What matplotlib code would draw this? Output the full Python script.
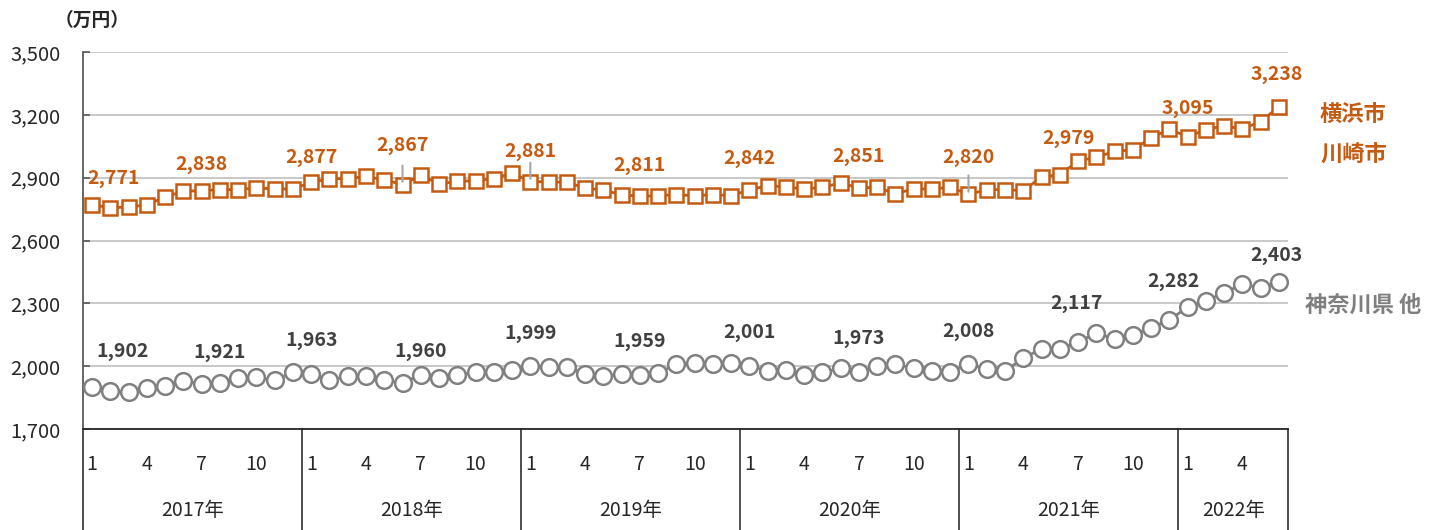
import matplotlib
matplotlib.use("Agg")
import matplotlib.pyplot as plt
import numpy as np
import pandas as pd

plt.rcParams['font.family'] = ['Noto Sans CJK JP', 'DejaVu Sans']

# monthly, Jan 2017 - Jun 2022
dates = pd.date_range('2017-01-01', periods=66, freq='MS')

yokohama_kawasaki = [
    2771, 2756, 2760, 2770, 2808, 2835, 2838, 2843, 2843, 2851, 2846, 2846,
    2877, 2895, 2895, 2906, 2890, 2867, 2911, 2871, 2882, 2886, 2895, 2922,
    2881, 2880, 2878, 2851, 2840, 2819, 2811, 2814, 2819, 2814, 2819, 2814,
    2842, 2862, 2856, 2846, 2854, 2875, 2851, 2854, 2824, 2846, 2846, 2854,
    2820, 2843, 2843, 2838, 2903, 2914, 2979, 2998, 3025, 3033, 3089, 3132,
    3095, 3129, 3148, 3132, 3168, 3238,
]
kanagawa_other = [
    1902, 1882, 1878, 1898, 1906, 1930, 1914, 1921, 1943, 1946, 1933, 1970,
    1963, 1935, 1951, 1951, 1933, 1919, 1960, 1943, 1957, 1970, 1970, 1982,
    1999, 1997, 1997, 1962, 1951, 1962, 1959, 1967, 2010, 2014, 2010, 2014,
    2001, 1978, 1982, 1957, 1970, 1989, 1973, 2001, 2010, 1989, 1978, 1974,
    2008, 1986, 1978, 2037, 2084, 2081, 2117, 2156, 2132, 2148, 2184, 2220,
    2282, 2311, 2351, 2390, 2375, 2403,
]
# indices of points that carry a value label
orange_labeled = [0, 6, 12, 17, 24, 30, 36, 42, 48, 54, 60, 65]
gray_labeled = [0, 7, 12, 18, 24, 30, 36, 42, 48, 54, 60, 65]
orange_leaders = [17, 24, 48]

ORANGE = '#C55A11'
GRAY = '#808080'
LABEL_GRAY = '#404040'

W, H = 1444, 530
fig = plt.figure(figsize=(W / 100, H / 100), dpi=100)
x0, x1, ytop, ybot = 83, 1288, 52, 429
ax = fig.add_axes([x0 / W, 1 - ybot / H, (x1 - x0) / W, (ybot - ytop) / H])

x = np.arange(len(dates))
ax.plot(x, yokohama_kawasaki, color=ORANGE, lw=2, marker='s', ms=9.5,
        mfc='white', mec=ORANGE, mew=1.8, zorder=4, clip_on=False)
ax.plot(x, kanagawa_other, color=GRAY, lw=2, marker='o', ms=12,
        mfc='white', mec=GRAY, mew=1.8, zorder=3, clip_on=False)

ax.set_xlim(-0.5, len(dates) - 0.5)
ax.set_ylim(1700, 3500)
ax.set_yticks(np.arange(1700, 3501, 300))
ax.yaxis.set_major_formatter(matplotlib.ticker.FuncFormatter(lambda v, p: f'{v:,.0f}'))
ax.tick_params(axis='y', direction='in', length=5, width=1.2, color='#595959',
               labelsize=14.5, pad=16, labelcolor='#262626')
ax.set_xticks([])
ax.grid(axis='y', color='#BFBFBF', lw=1.2, zorder=0)
ax.set_axisbelow(True)
for s in ['top', 'right']:
    ax.spines[s].set_visible(False)
ax.spines['left'].set_color('#595959')
ax.spines['left'].set_linewidth(1.3)
ax.spines['bottom'].set_color('#262626')
ax.spines['bottom'].set_linewidth(1.3)

# value labels (offsets in pixels: dx, dy above the point)
orange_off = {0: (21, 26), 6: (0, 26), 12: (0, 25), 17: (0, 39), 24: (0, 30),
              48: (0, 37), 54: (-10, 23), 60: (0, 28), 65: (-2, 32)}
gray_off = {0: (30, 35), 7: (0, 30), 18: (0, 23), 54: (-2, 38), 60: (-14, 26),
            65: (-2, 26)}

for i in orange_labeled:
    dx, dy = orange_off.get(i, (0, 31))
    ax.annotate(f'{yokohama_kawasaki[i]:,}', (i, yokohama_kawasaki[i]),
                xytext=(dx, dy), textcoords='offset pixels', ha='center',
                va='center', fontsize=14, fontweight='bold', color=ORANGE,
                annotation_clip=False, zorder=6)
for i in orange_leaders:
    ax.annotate('', (i, yokohama_kawasaki[i]), xytext=(0, 19),
                textcoords='offset pixels',
                arrowprops=dict(arrowstyle='-', color='#A6A6A6', lw=1.5,
                                shrinkA=0, shrinkB=2),
                zorder=5)
for i in gray_labeled:
    dx, dy = gray_off.get(i, (0, 33))
    ax.annotate(f'{kanagawa_other[i]:,}', (i, kanagawa_other[i]),
                xytext=(dx, dy), textcoords='offset pixels', ha='center',
                va='center', fontsize=14, fontweight='bold', color=LABEL_GRAY,
                annotation_clip=False, zorder=6)

# category axis: months and years
tr = ax.get_xaxis_transform()
axis_h = ybot - ytop
for i, d in enumerate(dates):
    if d.month in (1, 4, 7, 10):
        ax.text(i, -(465 - ybot) / axis_h, str(d.month), transform=tr,
                ha='center', va='center', fontsize=14, color='#262626')
years = sorted(set(dates.year))
bounds = [-0.5]
for yr in years:
    idx = np.where(dates.year == yr)[0]
    bounds.append(idx[-1] + 0.5)
    ax.text((idx[0] + idx[-1]) / 2, -(510 - ybot) / axis_h, f'{yr}年',
            transform=tr, ha='center', va='center', fontsize=14, color='#262626')
for b in bounds:
    ax.plot([b, b], [0, -(H - ybot) / axis_h], transform=tr, color='#404040',
            lw=1.3, clip_on=False)

# units and series names
fig.text(92 / W, 1 - 20 / H, '（万円）', ha='center', va='center', fontsize=13.5,
         fontweight='bold', color='#262626')
fig.text(1320 / W, 1 - 115 / H, '横浜市', ha='left', va='center', fontsize=16,
         fontweight='bold', color=ORANGE)
fig.text(1320 / W, 1 - 155 / H, '川崎市', ha='left', va='center', fontsize=16,
         fontweight='bold', color=ORANGE)
fig.text(1305 / W, 1 - 305 / H, '神奈川県 他', ha='left', va='center', fontsize=16,
         fontweight='bold', color='#7F7F7F')

fig.savefig('out.png', dpi=100)
